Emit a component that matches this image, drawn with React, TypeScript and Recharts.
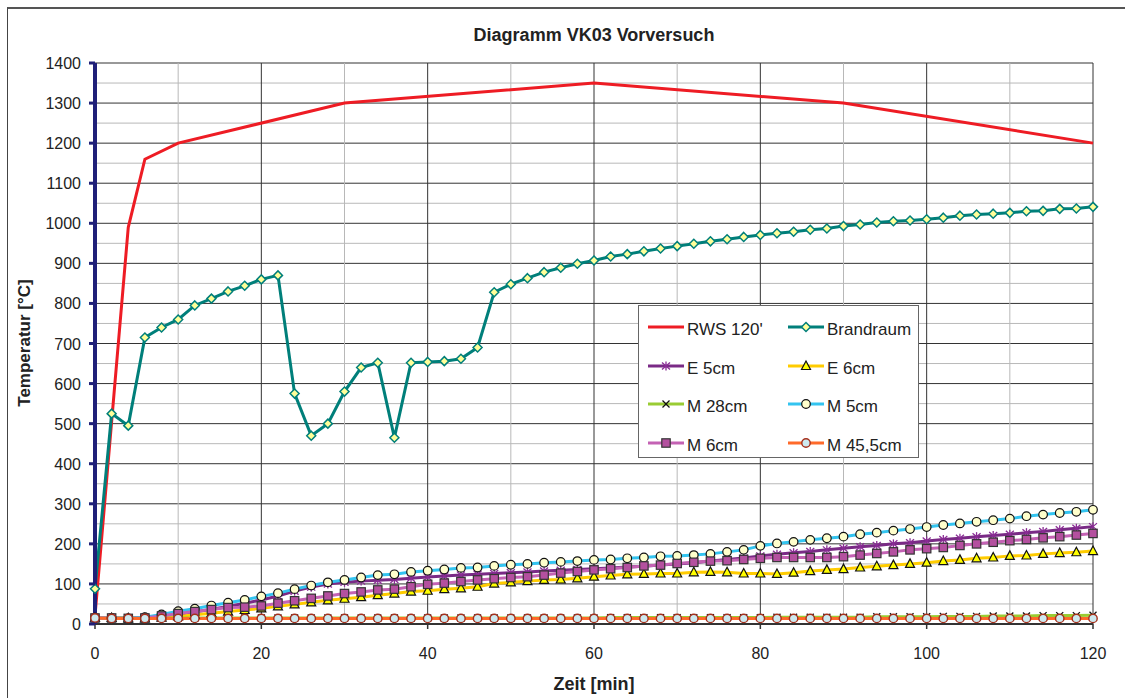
import { LineChart, Line, XAxis, YAxis, CartesianGrid } from 'recharts'

// Zeit [min], Messung alle 2 Minuten
const minutes = [
  0, 2, 4, 6, 8, 10, 12, 14, 16, 18, 20, 22, 24, 26, 28, 30, 32, 34, 36, 38, 40,
  42, 44, 46, 48, 50, 52, 54, 56, 58, 60, 62, 64, 66, 68, 70, 72, 74, 76, 78, 80,
  82, 84, 86, 88, 90, 92, 94, 96, 98, 100, 102, 104, 106, 108, 110, 112, 114, 116, 118, 120,
]

const brandraum = [
  88, 525, 495, 715, 740, 760, 795, 812, 830, 844, 860, 870, 575, 470, 500, 580, 640, 652, 465, 652, 654,
  656, 662, 690, 828, 848, 863, 878, 889, 899, 907, 917, 923, 930, 937, 943, 949, 955, 960, 966, 971,
  975, 979, 984, 987, 993, 997, 1002, 1005, 1007, 1010, 1014, 1019, 1022, 1024, 1026, 1030, 1031, 1036, 1037, 1041,
]
const e5cm = [
  15, 15, 15, 16, 19, 24, 30, 37, 44, 52, 60, 70, 82, 92, 100, 104, 107, 109, 111, 114, 117,
  120, 122, 124, 126, 128, 130, 132, 134, 136, 138, 140, 142, 144, 147, 150, 153, 157, 161, 165, 170,
  174, 178, 181, 185, 189, 193, 196, 200, 203, 207, 211, 214, 218, 221, 224, 228, 231, 235, 239, 243,
]
const e6cm = [
  15, 15, 14, 14, 16, 19, 23, 27, 31, 35, 39, 44, 49, 54, 59, 63, 67, 72, 76, 81, 83,
  87, 89, 93, 101, 104, 107, 110, 111, 114, 118, 121, 124, 125, 126, 126, 129, 130, 129, 126, 126,
  125, 128, 132, 135, 137, 141, 144, 147, 150, 153, 157, 160, 164, 166, 170, 171, 175, 177, 179, 182,
]
const m28cm = [
  15, 15, 15, 15, 15, 15, 15, 15, 15, 15, 15, 15, 15, 15, 15, 15, 15, 15, 15, 15, 15,
  15, 15, 15, 15, 15, 15, 15, 15, 15, 15, 16, 16, 16, 16, 16, 16, 16, 16, 16, 16,
  17, 17, 17, 17, 17, 17, 18, 18, 18, 18, 19, 19, 19, 20, 20, 20, 21, 21, 21, 22,
]
const m5cm = [
  15, 15, 14, 17, 24, 32, 38, 46, 53, 60, 69, 77, 87, 96, 104, 110, 116, 122, 124, 130, 133,
  136, 140, 141, 145, 148, 150, 153, 155, 157, 160, 161, 164, 166, 169, 170, 172, 175, 180, 185, 195,
  201, 205, 210, 214, 218, 224, 228, 233, 237, 242, 247, 251, 255, 259, 263, 269, 273, 277, 280, 285,
]
const m6cm = [
  15, 15, 14, 15, 20, 26, 31, 36, 41, 42, 45, 52, 58, 64, 70, 76, 80, 85, 87, 93, 99,
  102, 106, 110, 113, 116, 118, 122, 127, 131, 135, 138, 141, 145, 147, 151, 154, 157, 158, 161, 164,
  166, 166, 166, 166, 168, 172, 176, 180, 185, 188, 191, 196, 200, 204, 208, 211, 215, 218, 222, 226,
]
const m455cm = [
  15, 14, 14, 14, 14, 14, 14, 14, 14, 14, 14, 14, 14, 14, 14, 14, 14, 14, 14, 14, 14,
  14, 14, 14, 14, 14, 14, 14, 14, 14, 14, 14, 14, 14, 14, 14, 14, 14, 14, 14, 14,
  14, 14, 14, 14, 14, 14, 14, 14, 14, 14, 14, 14, 14, 14, 14, 14, 14, 14, 14, 14,
]

// RWS-Kurve nur an den Stuetzstellen
const rwsMinutes = [0, 4, 6, 10, 30, 60, 90, 120]
const rwsValues = [20, 990, 1160, 1200, 1300, 1350, 1300, 1200]

const xTicks = [0, 10, 20, 30, 40, 50, 60, 70, 80, 90, 100, 110, 120]
const yTicks = [
  0, 50, 100, 150, 200, 250, 300, 350, 400, 450, 500, 550, 600, 650, 700,
  750, 800, 850, 900, 950, 1000, 1050, 1100, 1150, 1200, 1250, 1300, 1350, 1400,
]

const data = minutes.map((t, i) => ({
  t,
  brand: brandraum[i],
  e5: e5cm[i],
  e6: e6cm[i],
  m28: m28cm[i],
  m5: m5cm[i],
  m6: m6cm[i],
  m45: m455cm[i],
}))
const rwsData = rwsMinutes.map((t, i) => ({ t, rws: rwsValues[i] }))

const NAVY = '#1f1f78'
const FONT = '"Liberation Sans", Arial, sans-serif'

const series = [
  { key: 'rws', name: "RWS 120'", color: '#ee1c24', marker: 'none' },
  { key: 'brand', name: 'Brandraum', color: '#007f7a', marker: 'diamond' },
  { key: 'e5', name: 'E 5cm', color: '#7a2a86', marker: 'star' },
  { key: 'e6', name: 'E 6cm', color: '#ffcc00', marker: 'triangle' },
  { key: 'm28', name: 'M 28cm', color: '#99cc33', marker: 'x' },
  { key: 'm5', name: 'M 5cm', color: '#33c4f0', marker: 'circleY' },
  { key: 'm6', name: 'M 6cm', color: '#c462b4', marker: 'square' },
  { key: 'm45', name: 'M 45,5cm', color: '#ff6a2a', marker: 'circleB' },
]

function Marker({ kind, cx, cy }: { kind: string; cx: number; cy: number }) {
  if (cx == null || cy == null) return null
  switch (kind) {
    case 'diamond':
      return <path d={`M${cx},${cy - 4.5}L${cx + 4.5},${cy}L${cx},${cy + 4.5}L${cx - 4.5},${cy}Z`} fill="#ffff99" stroke="#007f7a" strokeWidth={1.5} />
    case 'star':
      return (
        <g stroke="#8a2c95" strokeWidth={1.3}>
          <line x1={cx} y1={cy - 4.5} x2={cx} y2={cy + 4.5} />
          <line x1={cx - 4} y1={cy - 3.5} x2={cx + 4} y2={cy + 3.5} />
          <line x1={cx - 4} y1={cy + 3.5} x2={cx + 4} y2={cy - 3.5} />
        </g>
      )
    case 'triangle':
      return <path d={`M${cx},${cy - 5}L${cx + 4.5},${cy + 3.5}L${cx - 4.5},${cy + 3.5}Z`} fill="#ffff00" stroke="#111" strokeWidth={1.2} />
    case 'x':
      return (
        <g stroke="#111" strokeWidth={1.3}>
          <line x1={cx - 3.5} y1={cy - 3.5} x2={cx + 3.5} y2={cy + 3.5} />
          <line x1={cx - 3.5} y1={cy + 3.5} x2={cx + 3.5} y2={cy - 3.5} />
        </g>
      )
    case 'circleY':
      return <circle cx={cx} cy={cy} r={4.3} fill="#ffffcc" stroke="#111" strokeWidth={1.2} />
    case 'square':
      return <rect x={cx - 4.2} y={cy - 4.2} width={8.4} height={8.4} fill="#b4509f" stroke="#333" strokeWidth={1.2} />
    case 'circleB':
      return <circle cx={cx} cy={cy} r={4.2} fill="#cde9ef" stroke="#a5301c" strokeWidth={1.4} />
    default:
      return null
  }
}

const dotFor = (kind: string) => (p: any) => <Marker key={`${kind}-${p.index}`} kind={kind} cx={p.cx} cy={p.cy} />

const gridLine = (p: any) => (
  <line key={p.key} x1={p.x1} y1={p.y1} x2={p.x2} y2={p.y2} stroke={p.index % 2 === 0 ? '#333' : '#b8b8b8'} strokeWidth={1} />
)

const YTick = (p: any) => {
  const v = p.payload.value
  if (v % 100 !== 0) return <g />
  return (
    <g>
      <line x1={p.x + 8} x2={p.x + 14} y1={p.y} y2={p.y} stroke={NAVY} strokeWidth={3} />
      <text x={p.x} y={p.y} dy={6} textAnchor="end" fontSize={16} fontFamily={FONT} fill="#222">{v}</text>
    </g>
  )
}

const XTick = (p: any) => {
  const v = p.payload.value
  if (v % 20 !== 0) return <g />
  return (
    <g>
      <line x1={p.x} x2={p.x} y1={p.y - 23} y2={p.y - 18} stroke="#333" strokeWidth={1.5} />
      <text x={p.x} y={p.y} dy={12} textAnchor="middle" fontSize={16} fontFamily={FONT} fill="#222">{v}</text>
    </g>
  )
}

function LegendBox() {
  return (
    <div style={{ position: 'absolute', left: 638, top: 305, width: 279, height: 151, border: '1px solid #666', background: '#fff' }}>
      {series.map((s, i) => {
        const col = i % 2
        const row = Math.floor(i / 2)
        return (
          <div key={s.key} style={{ position: 'absolute', left: 8 + col * 140, top: 21 + row * 38.5 - 10, height: 20, display: 'flex', alignItems: 'center' }}>
            <svg width={38} height={20}>
              <line x1={1} x2={37} y1={10} y2={10} stroke={s.color} strokeWidth={3} />
              <Marker kind={s.marker} cx={19} cy={10} />
            </svg>
            <span style={{ fontSize: 17, color: '#222', marginLeft: 2, marginTop: 6, fontFamily: FONT }}>{s.name}</span>
          </div>
        )
      })}
    </div>
  )
}

export default function App() {
  return (
    <div style={{ position: 'absolute', left: 0, top: 0, width: 1125, height: 698, background: '#fff', overflow: 'hidden', fontFamily: FONT }}>
      <div style={{ position: 'absolute', left: 7, top: 7, width: 1130, height: 700, borderTop: '2px solid #555', borderLeft: '1.5px solid #444' }} />
      <div style={{ position: 'absolute', left: 0, top: 24, width: 1188, textAlign: 'center', fontSize: 18, fontWeight: 'bold', lineHeight: '22px', color: '#222' }}>
        Diagramm VK03 Vorversuch
      </div>
      <LineChart width={1125} height={698} data={data} margin={{ top: 63, right: 32, bottom: 24, left: 8 }} style={{ position: 'absolute', left: 0, top: 0 }}>
        <CartesianGrid horizontal={gridLine} vertical={gridLine} />
        <XAxis dataKey="t" type="number" domain={[0, 120]} ticks={xTicks} interval={0} height={50} tickSize={5} tickMargin={18} tickLine={false} tick={XTick} axisLine={{ stroke: '#333', strokeWidth: 2 }} />
        <YAxis type="number" domain={[0, 1400]} ticks={yTicks} interval={0} width={87} tickSize={6} tickMargin={8} tickLine={false} tick={YTick} axisLine={{ stroke: NAVY, strokeWidth: 4 }} />
        <Line data={rwsData} dataKey="rws" name="RWS 120'" type="linear" stroke="#ee1c24" strokeWidth={3} dot={false} activeDot={false} isAnimationActive={false} />
        {series.slice(1).map((s) => (
          <Line key={s.key} dataKey={s.key} name={s.name} type="linear" stroke={s.color} strokeWidth={3} dot={dotFor(s.marker)} activeDot={false} isAnimationActive={false} />
        ))}
      </LineChart>
      <LegendBox />
      <div style={{ position: 'absolute', left: 0, top: 673, width: 1188, textAlign: 'center', fontSize: 18, fontWeight: 'bold', lineHeight: '22px', color: '#222' }}>
        Zeit [min]
      </div>
      <div style={{ position: 'absolute', left: 25 - 100, top: 343 - 11, width: 200, textAlign: 'center', fontSize: 17, fontWeight: 'bold', lineHeight: '22px', color: '#222', transform: 'rotate(-90deg)' }}>
        Temperatur [°C]
      </div>
    </div>
  )
}
